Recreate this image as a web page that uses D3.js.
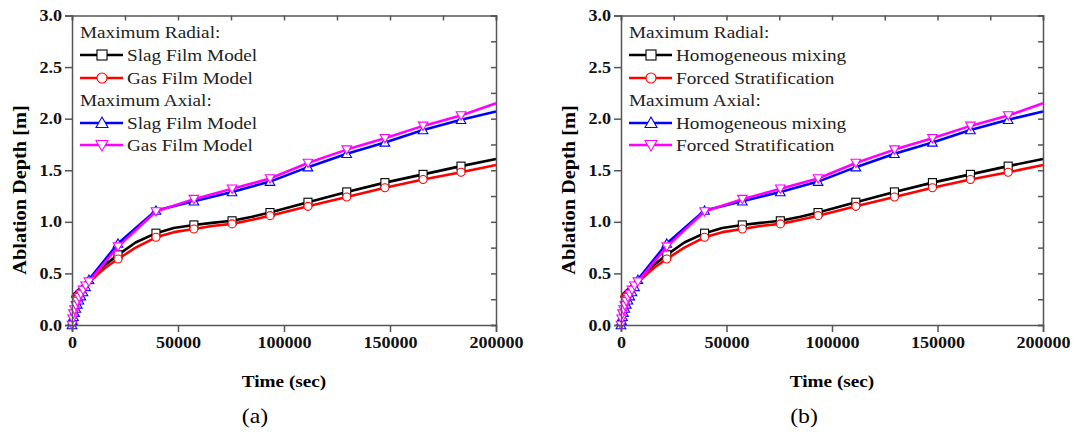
<!DOCTYPE html>
<html>
  <head>
    <script src="https://d3js.org/d3.v7.min.js" charset="utf-8"></script>
    <style>
      body { margin: 0; background: #fff; }
      text { font-family: "Liberation Serif", "Times New Roman", serif; }
    </style>
  </head>
  <body>
    <svg id="chart" width="1075" height="433"></svg>
    <script>
      // radial series (square / circle)
      var tRadial = [0, 1000, 2000, 3000, 4000, 5500, 7000, 8500, 12000, 16000, 21700, 30000, 39600, 48000,
          57500, 66000, 75500, 85000, 93400, 111300, 129600, 147600, 165600, 183500, 200000];
      var radialA = [0.27, 0.30, 0.32, 0.34, 0.36, 0.39, 0.41, 0.44, 0.51, 0.59, 0.68, 0.80, 0.89, 0.94,
          0.97, 0.99, 1.01, 1.05, 1.09, 1.19, 1.29, 1.38, 1.46, 1.54, 1.61];
      var radialB = [0.26, 0.29, 0.31, 0.33, 0.35, 0.37, 0.39, 0.42, 0.49, 0.56, 0.64, 0.75, 0.85, 0.90,
          0.93, 0.96, 0.98, 1.02, 1.06, 1.15, 1.24, 1.33, 1.41, 1.48, 1.55];
      var radialMarks = [21700, 39600, 57500, 75500, 93400, 111300, 129600, 147600, 165600, 183500];

      // axial series (triangle up / triangle down)
      var tAxial = [0, 300, 700, 1200, 1800, 2500, 3300, 4200, 5200, 6400, 8000, 21700, 39600, 57500,
          75500, 93400, 111300, 129600, 147600, 165600, 183500, 200000];
      var axialA = [0.00, 0.04, 0.08, 0.12, 0.16, 0.20, 0.24, 0.28, 0.32, 0.37, 0.44, 0.79, 1.11, 1.20,
          1.29, 1.39, 1.53, 1.66, 1.77, 1.89, 1.99, 2.07];
      var axialB = [0.00, 0.06, 0.11, 0.15, 0.19, 0.23, 0.27, 0.30, 0.34, 0.38, 0.42, 0.76, 1.10, 1.22,
          1.32, 1.42, 1.57, 1.70, 1.81, 1.93, 2.03, 2.15];
      var axialMarks = [0, 300, 700, 1200, 1800, 2500, 3300, 4200, 5200, 6400, 8000, 21700, 39600, 57500,
          75500, 93400, 111300, 129600, 147600, 165600, 183500];

      var xTicks = [0, 50000, 100000, 150000, 200000];
      var yTicks = [0, 0.5, 1.0, 1.5, 2.0, 2.5, 3.0];
      var namesA = ["Slag Film Model", "Gas Film Model"];
      var namesB = ["Homogeneous mixing", "Forced Stratification"];

      var svg = d3.select("#chart");
      var stretch = 1.13;
      var axisColor = "#555";

      function widen(sel) {
        sel.each(function() {
          var w = this.getComputedTextLength();
          d3.select(this).attr("textLength", w * stretch).attr("lengthAdjust", "spacingAndGlyphs");
        });
      }

      function marker(g, shape, x, y, color, s) {
        if (shape == "square") {
          g.append("rect").attr("x", x - s / 2).attr("y", y - s / 2).attr("width", s).attr("height", s)
            .attr("fill", "white").attr("stroke", color).attr("stroke-width", 1.1);
        } else if (shape == "circle") {
          g.append("circle").attr("cx", x).attr("cy", y).attr("r", s / 2)
            .attr("fill", "white").attr("stroke", color).attr("stroke-width", 1.1);
        } else {
          var sym = d3.symbol().type(d3.symbolTriangle).size(s * s * 0.62);
          g.append("path").attr("d", sym())
            .attr("transform", "translate(" + x + "," + (y + (shape == "down" ? -1 : 1)) + ")" + (shape == "down" ? " rotate(180)" : ""))
            .attr("fill", "white").attr("stroke", color).attr("stroke-width", 1.1);
        }
      }

      function panel(x0, x1, names, label) {
        var x = d3.scaleLinear().domain([0, 200000]).range([x0, x1]);
        var y = d3.scaleLinear().domain([0, 3]).range([325, 15.5]);
        var g = svg.append("g");

        var series = [
          {t: tRadial, v: radialA, marks: radialMarks, color: "#000", shape: "square"},
          {t: tRadial, v: radialB, marks: radialMarks, color: "#ff0000", shape: "circle"},
          {t: tAxial, v: axialA, marks: axialMarks, color: "#0000ff", shape: "up"},
          {t: tAxial, v: axialB, marks: axialMarks, color: "#ff00ff", shape: "down"}
        ];
        var line = d3.line().x(d => x(d[0])).y(d => y(d[1]));
        series.forEach(function(s) {
          var pts = s.t.map((t, i) => [t, s.v[i]]);
          g.append("path").attr("d", line(pts)).attr("fill", "none")
            .attr("stroke", s.color).attr("stroke-width", 2.6).attr("stroke-linejoin", "round");
          var mg = g.append("g");
          pts.filter(p => s.marks.indexOf(p[0]) >= 0).forEach(function(p) {
            marker(mg, s.shape, x(p[0]), y(p[1]), s.color, 8);
          });
        });

        // axes
        var minorX = d3.range(0, 200001, 25000), minorY = d3.range(0, 3.001, 0.25);
        var ax = g.append("g").attr("transform", "translate(0,325)");
        ax.call(d3.axisBottom(x).tickValues(minorX).tickSize(4).tickFormat(""));
        ax.call(d3.axisBottom(x).tickValues(xTicks).tickSize(7).tickPadding(5).tickFormat(d3.format("d")));
        var ay = g.append("g").attr("transform", "translate(" + x0 + ",0)");
        ay.call(d3.axisLeft(y).tickValues(minorY).tickSize(4).tickFormat(""));
        ay.call(d3.axisLeft(y).tickValues(yTicks).tickSize(7).tickPadding(3).tickFormat(d3.format(".1f")));
        g.append("g").attr("transform", "translate(0,15.5)")
          .call(d3.axisTop(x).tickValues(minorX).tickSize(-5).tickFormat(""));
        g.append("g").attr("transform", "translate(" + x1 + ",0)")
          .call(d3.axisRight(y).tickValues(minorY).tickSize(-5).tickFormat(""));
        g.selectAll(".domain, .tick line").attr("stroke", axisColor).attr("stroke-width", 1.5);
        g.selectAll(".tick text").attr("font-family", "Liberation Serif").attr("font-weight", "bold")
          .attr("font-size", 16).attr("fill", "#111").call(widen);

        g.append("text").attr("x", (x0 + x1) / 2).attr("y", 381).attr("dy", "0.35em")
          .attr("text-anchor", "middle").attr("font-weight", "bold").attr("font-size", 17)
          .text("Time (sec)").call(widen);
        g.append("text").attr("transform", "translate(" + (x0 - 52) + ",190) rotate(-90)")
          .attr("dy", "0.35em").attr("text-anchor", "middle").attr("font-weight", "bold")
          .attr("font-size", 18).text("Ablation Depth [m]").call(widen);
        g.append("text").attr("x", x0 + 183).attr("y", 416).attr("dy", "0.35em")
          .attr("text-anchor", "middle").attr("font-size", 21).text(label).call(widen);

        // legend
        var lx = x0 + 8;
        var rows = [
          {txt: "Maximum Radial:", y: 32},
          {txt: names[0], y: 55, s: series[0]},
          {txt: names[1], y: 78, s: series[1]},
          {txt: "Maximum Axial:", y: 100},
          {txt: names[0], y: 123, s: series[2]},
          {txt: names[1], y: 145, s: series[3]}
        ];
        var lg = g.append("g");
        rows.forEach(function(r) {
          var tx = lx;
          if (r.s) {
            lg.append("line").attr("x1", lx).attr("x2", lx + 43).attr("y1", r.y).attr("y2", r.y)
              .attr("stroke", r.s.color).attr("stroke-width", 2.6);
            marker(lg, r.s.shape, lx + 22, r.y, r.s.color, 10);
            tx = lx + 47;
          }
          lg.append("text").attr("x", tx).attr("y", r.y).attr("dy", "0.35em")
            .attr("font-size", 17).attr("fill", "#222").text(r.txt).call(widen);
        });
      }

      panel(72, 496, namesA, "(a)");
      panel(621, 1043, namesB, "(b)");
    </script>
  </body>
</html>
